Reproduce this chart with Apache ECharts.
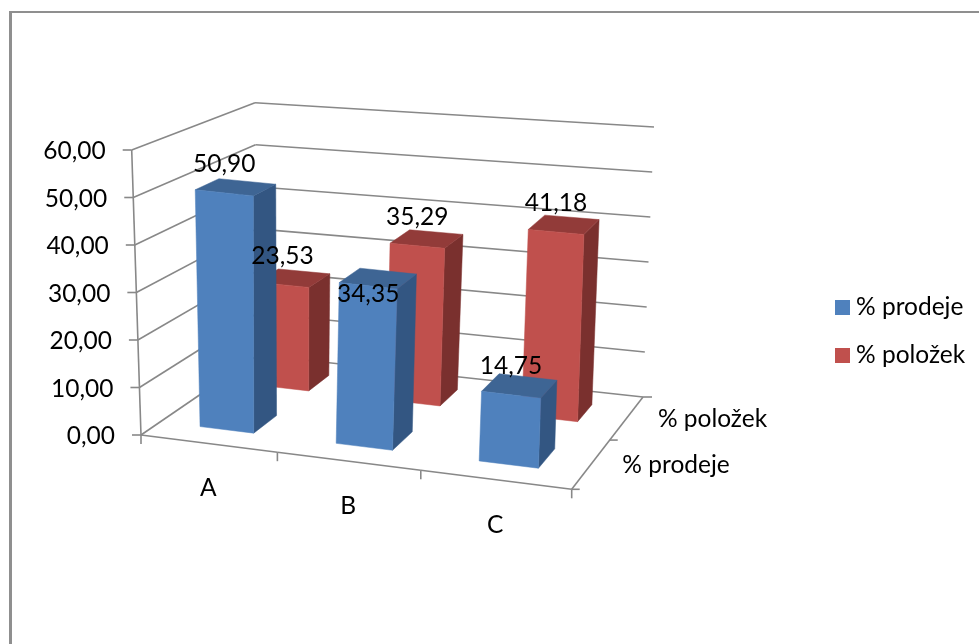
<!DOCTYPE html>
<html>
<head>
<meta charset="utf-8">
<style>
  html, body { margin: 0; padding: 0; background: #fff; }
  #chart { width: 979px; height: 644px; }
</style>
<script src="https://cdn.jsdelivr.net/npm/echarts@6/dist/echarts.min.js"></script>
</head>
<body>
<div id="chart"></div>
<script>
var categories = ['A', 'B', 'C'];
var depthNames = ['% prodeje', '% položek'];
var prodeje = [50.90, 34.35, 14.75];
var polozek = [23.53, 35.29, 41.18];
var yTicks = [0, 10, 20, 30, 40, 50, 60];

var GREY = '#888888';
var FONT = 'Lato, "Noto Sans", sans-serif';
var FONT_SIZE = 24.5;
var BAR_COLORS = [
  { front: '#4f81bd', side: '#335682', top: '#3e6594' },
  { front: '#c0504d', side: '#7a302e', top: '#923b39' }
];

// homography from the unit square to a quad (p00, p10, p11, p01)
function homography(p00, p10, p11, p01) {
  var dx1 = p10[0] - p11[0], dx2 = p01[0] - p11[0], sx = p00[0] - p10[0] + p11[0] - p01[0];
  var dy1 = p10[1] - p11[1], dy2 = p01[1] - p11[1], sy = p00[1] - p10[1] + p11[1] - p01[1];
  var den = dx1 * dy2 - dx2 * dy1;
  var g = (sx * dy2 - dx2 * sy) / den;
  var h = (dx1 * sy - sx * dy1) / den;
  var a = p10[0] - p00[0] + g * p10[0], b = p01[0] - p00[0] + h * p01[0];
  var d = p10[1] - p00[1] + g * p10[1], e = p01[1] - p00[1] + h * p01[1];
  return function (u, v) {
    var w = g * u + h * v + 1;
    return [(a * u + b * v + p00[0]) / w, (d * u + e * v + p00[1]) / w];
  };
}

function bilinear(p00, p10, p11, p01) {
  return function (u, v) {
    return [0, 1].map(function (i) {
      var front = p00[i] + (p10[i] - p00[i]) * u;
      var back = p01[i] + (p11[i] - p01[i]) * u;
      return front + (back - front) * v;
    });
  };
}

// floor and ceiling of the 3d box as they sit on screen
var floorAt = homography([141, 435], [571.7, 489.3], [643, 397], [258, 355]);
var ceilAt = bilinear([131.7, 150], [581, 199], [654, 127], [255, 102.7]);

function project(u, v, t) {
  var f = floorAt(u, v), c = ceilAt(u, v);
  return [f[0] + (c[0] - f[0]) * t, f[1] + (c[1] - f[1]) * t];
}

// fractions of the (hidden) grid, so values go through the echarts scales
function fracX(cs, px) { return (px - cs.x) / cs.width; }
function fracY(cs, py) { return (cs.y + cs.height - py) / cs.height; }

function line(p, q) {
  return { type: 'line', shape: { x1: p[0], y1: p[1], x2: q[0], y2: q[1] },
    style: { stroke: GREY, lineWidth: 1.6, fill: null } };
}
function label(text, x, y, align) {
  return { type: 'text', style: { text: text, x: x, y: y, align: align || 'center', verticalAlign: 'middle',
    fontFamily: FONT, fontSize: FONT_SIZE, fill: '#000' } };
}
function face(points, color) {
  return { type: 'polygon', shape: { points: points }, style: { fill: color, stroke: color, lineWidth: 0.5 } };
}
function fmt(n) { return n.toFixed(2).replace('.', ','); }

function renderValueAxis(params, api) {
  var cs = params.coordSys;
  var t = fracY(cs, api.coord([0, api.value(1)])[1]);
  var p0 = project(0, 0, t), p1 = project(0, 1, t), p2 = project(1, 1, t);
  return { type: 'group', children: [
    line(p0, p1), line(p1, p2),
    line(p0, [p0[0] - 9, p0[1]]),
    label(fmt(api.value(1)), p0[0] - 26, p0[1] + 1.5, 'right')
  ] };
}

function renderCategoryAxis(params, api) {
  var cs = params.coordSys;
  var i = api.value(0);
  var band = api.size([1, 0])[0] / cs.width;
  var mid = fracX(cs, api.coord([i, 0])[0]);
  var left = project(mid - band / 2, 0, 0);
  var right = project(mid + band / 2, 0, 0);
  var centre = project(mid, 0, 0);
  var kids = [
    line(left, right),
    line(left, [left[0], left[1] + 9]),
    label(categories[i], centre[0], centre[1] + 45)
  ];
  if (i === categories.length - 1) {
    kids.push(line(right, [right[0], right[1] + 9]));
  }
  if (i === 0) {
    kids.push(line(project(0, 0, 0), project(0, 0, 1)));
    kids.push(line(project(1, 0, 0), project(1, 1, 0)));
  }
  return { type: 'group', children: kids };
}

function renderDepthAxis(params, api) {
  var s = params.dataIndex;
  var n = depthNames.length;
  var p = project(1, s / n, 0);
  var mid = project(1, (s + 0.5) / n, 0);
  var kids = [
    line(p, [p[0] + 8, p[1]]),
    label(depthNames[s], mid[0] + 31, mid[1] + 1, 'left')
  ];
  if (s === n - 1) {
    var q = project(1, 1, 0);
    kids.push(line(q, [q[0] + 9, q[1]]));
  }
  return { type: 'group', children: kids };
}

function barCorners(params, api, s) {
  var cs = params.coordSys;
  var i = api.value(0);
  var band = api.size([1, 0])[0] / cs.width;
  var mid = fracX(cs, api.coord([i, 0])[0]);
  var t = fracY(cs, api.coord([i, api.value(1)])[1]);
  var u0 = mid - band * 0.2, u1 = mid + band * 0.2;
  var v0 = (s + 0.3) / depthNames.length, v1 = (s + 0.7) / depthNames.length;
  return { u0: u0, u1: u1, v0: v0, v1: v1, t: t };
}

function renderBar(s) {
  return function (params, api) {
    var k = barCorners(params, api, s);
    var col = BAR_COLORS[s];
    return { type: 'group', children: [
      face([project(k.u1, k.v0, 0), project(k.u1, k.v1, 0), project(k.u1, k.v1, k.t), project(k.u1, k.v0, k.t)], col.side),
      face([project(k.u0, k.v0, k.t), project(k.u1, k.v0, k.t), project(k.u1, k.v1, k.t), project(k.u0, k.v1, k.t)], col.top),
      face([project(k.u0, k.v0, 0), project(k.u1, k.v0, 0), project(k.u1, k.v0, k.t), project(k.u0, k.v0, k.t)], col.front)
    ] };
  };
}

// the label of 34,35 sits lower than the others in the original
var labelLift = { '0:1': -8 };

function renderBarLabel(s) {
  return function (params, api) {
    var k = barCorners(params, api, s);
    var p = project((k.u0 + k.u1) / 2, k.v0, k.t);
    var lift = labelLift[s + ':' + api.value(0)];
    return label(fmt(api.value(1)), p[0], p[1] - (lift === undefined ? 29 : lift));
  };
}

function pairs(values) {
  return values.map(function (v, i) { return [i, v]; });
}

function customSeries(opts) {
  return Object.assign({ type: 'custom', coordinateSystem: 'cartesian2d', clip: false, silent: true }, opts);
}

var chart = echarts.init(document.getElementById('chart'), null, { renderer: 'canvas' });
chart.setOption({
  animation: false,
  backgroundColor: '#fff',
  grid: { left: 0, right: 0, top: 0, bottom: 0, show: false },
  xAxis: { type: 'category', data: categories, show: false },
  yAxis: { type: 'value', min: 0, max: 60, interval: 10, show: false },
  legend: {
    data: [
      { name: depthNames[0], itemStyle: { color: BAR_COLORS[0].front } },
      { name: depthNames[1], itemStyle: { color: BAR_COLORS[1].front } }
    ],
    orient: 'vertical',
    left: 835,
    top: 295,
    padding: 0,
    itemWidth: 15,
    itemHeight: 15,
    itemGap: 23,
    icon: 'rect',
    selectedMode: false,
    textStyle: { fontFamily: FONT, fontSize: FONT_SIZE, color: '#000', padding: [0, 0, 0, 1] }
  },
  graphic: [
    { type: 'rect', shape: { x: 9, y: 11, width: 3, height: 633 }, style: { fill: '#8f8f8f' } },
    { type: 'rect', shape: { x: 9, y: 11, width: 970, height: 2 }, style: { fill: '#8f8f8f' } }
  ],
  series: [
    customSeries({ z: 1, data: yTicks.map(function (t) { return [0, t]; }), renderItem: renderValueAxis }),
    customSeries({ z: 1, data: pairs(categories.map(function () { return 0; })), renderItem: renderCategoryAxis }),
    customSeries({ z: 1, data: depthNames.map(function () { return [0, 0]; }), renderItem: renderDepthAxis }),
    customSeries({ name: depthNames[1], z: 2, data: pairs(polozek), itemStyle: { color: BAR_COLORS[1].front }, renderItem: renderBar(1) }),
    customSeries({ name: depthNames[0], z: 3, data: pairs(prodeje), itemStyle: { color: BAR_COLORS[0].front }, renderItem: renderBar(0) }),
    customSeries({ z: 4, data: pairs(polozek), renderItem: renderBarLabel(1) }),
    customSeries({ z: 4, data: pairs(prodeje), renderItem: renderBarLabel(0) })
  ]
});
</script>
</body>
</html>
